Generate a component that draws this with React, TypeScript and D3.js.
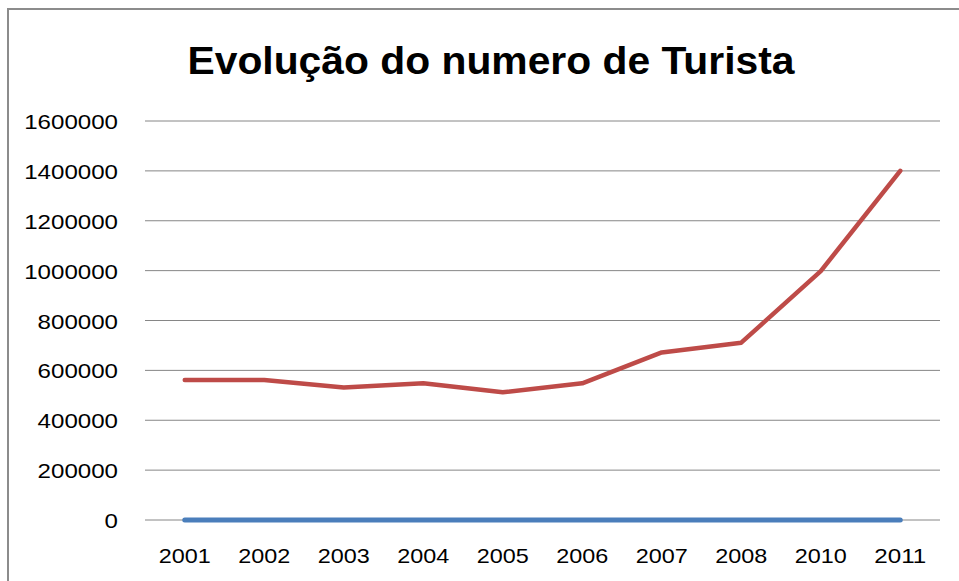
import { useEffect, useRef } from "react"
import * as d3 from 'd3'

const anos = ['2001', '2002', '2003', '2004', '2005', '2006', '2007', '2008', '2010', '2011']
const turistas = [561000, 561000, 531000, 548000, 512000, 548000, 672000, 711000, 998000, 1400000]
const serieZero = [0, 0, 0, 0, 0, 0, 0, 0, 0, 0]
const yTicks = [0, 200000, 400000, 600000, 800000, 1000000, 1200000, 1400000, 1600000]
const titulo = 'Evolução do numero de Turista'

const App = () => {
  const svgRef = useRef<SVGSVGElement>(null)

  useEffect(() => {
    const width = 959
    const height = 581
    const margin = { top: 121, right: 19, bottom: 61, left: 145 }

    const svg = d3.select(svgRef.current)
    svg.selectAll('*').remove()

    //chart frame (only top and left edges are visible in the picture)
    svg.append('path')
      .attr('d', `M8,${height} V9 H${width}`)
      .attr('fill', 'none')
      .attr('stroke', '#8c8c8c')
      .attr('stroke-width', 2)

    svg.append('text')
      .attr('x', 491)
      .attr('y', 74)
      .attr('text-anchor', 'middle')
      .attr('font-family', 'Liberation Sans, Arial, sans-serif')
      .attr('font-weight', 'bold')
      .attr('font-size', 39)
      .attr('textLength', 607)
      .attr('lengthAdjust', 'spacingAndGlyphs')
      .attr('fill', '#000')
      .text(titulo)

    const x = d3.scaleBand()
      .domain(anos)
      .range([margin.left, width - margin.right])

    const y = d3.scaleLinear()
      .domain([0, 1600000])
      .range([height - margin.bottom, margin.top])

    //gridlines
    svg.append('g')
      .selectAll('line')
      .data(yTicks)
      .enter()
      .append('line')
      .attr('x1', margin.left)
      .attr('x2', width - margin.right)
      .attr('y1', d => y(d))
      .attr('y2', d => y(d))
      .attr('stroke', '#868686')
      .attr('stroke-width', 1)

    //y labels
    svg.append('g')
      .selectAll('text')
      .data(yTicks)
      .enter()
      .append('text')
      .attr('x', 118)
      .attr('y', d => y(d) + 8)
      .attr('text-anchor', 'end')
      .attr('font-family', 'Liberation Sans, Arial, sans-serif')
      .attr('font-size', 21)
      .attr('fill', '#000')
      .attr('textLength', d => String(d).length * 13.4)
      .attr('lengthAdjust', 'spacingAndGlyphs')
      .text(d => String(d))

    //x labels
    svg.append('g')
      .selectAll('text')
      .data(anos)
      .enter()
      .append('text')
      .attr('x', d => (x(d) ?? 0) + x.bandwidth() / 2)
      .attr('y', 563)
      .attr('text-anchor', 'middle')
      .attr('font-family', 'Liberation Sans, Arial, sans-serif')
      .attr('font-size', 21)
      .attr('fill', '#000')
      .attr('textLength', 52)
      .attr('lengthAdjust', 'spacingAndGlyphs')
      .text(d => d)

    const line = d3.line<number>()
      .x((d, i) => (x(anos[i]) ?? 0) + x.bandwidth() / 2)
      .y(d => y(d))

    svg.append('path')
      .datum(serieZero)
      .attr('fill', 'none')
      .attr('stroke', '#4a7ebb')
      .attr('stroke-width', 5)
      .attr('stroke-linejoin', 'round')
      .attr('stroke-linecap', 'round')
      .attr('d', line)

    svg.append('path')
      .datum(turistas)
      .attr('fill', 'none')
      .attr('stroke', '#be4b48')
      .attr('stroke-width', 4.5)
      .attr('stroke-linejoin', 'round')
      .attr('stroke-linecap', 'round')
      .attr('d', line)
  }, [])

  return (
    <svg
      ref={svgRef}
      width={959}
      height={581}
      style={{ position: 'absolute', top: 0, left: 0, background: '#fff' }}
    />
  )
}

export default App
